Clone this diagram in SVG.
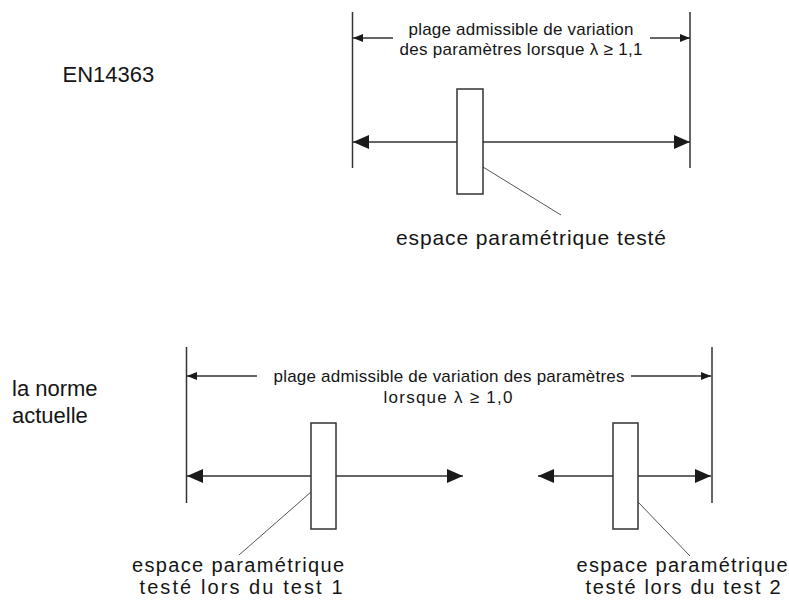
<svg xmlns="http://www.w3.org/2000/svg" width="789" height="603" viewBox="0 0 789 603">
<defs>
<marker id="big" viewBox="0 0 16 14" markerWidth="16" markerHeight="14" refX="16" refY="7" orient="auto-start-reverse" markerUnits="userSpaceOnUse"><path d="M0,0 L16,7 L0,14 Z" fill="#1a1a1a"/></marker>
<marker id="small" viewBox="0 0 10 8" markerWidth="10" markerHeight="8" refX="10" refY="4" orient="auto-start-reverse" markerUnits="userSpaceOnUse"><path d="M0,0 L10,4 L0,8 Z" fill="#1a1a1a"/></marker>
<style>
text{font-family:"Liberation Sans",Arial,sans-serif;fill:#151515}
.t17{font-size:17px}
.t20{font-size:20px}
.t21{font-size:21px}
.t22{font-size:22px}
.ext{stroke:#333;stroke-width:1.5;fill:none}
.dim{stroke:#333;stroke-width:1.3;fill:none}
.axis{stroke:#333;stroke-width:1.5;fill:none}
.lead{stroke:#555;stroke-width:1;fill:none}
.box{fill:#fff;stroke:#333;stroke-width:1.5}
</style>
</defs>
<g id="connectors">
<line class="ext" x1="352.5" y1="12" x2="352.5" y2="168"/>
<line class="ext" x1="690" y1="12" x2="690" y2="168"/>
<line class="dim" x1="353" y1="38" x2="393" y2="38" marker-start="url(#small)"/>
<line class="dim" x1="650" y1="38" x2="690" y2="38" marker-end="url(#small)"/>
<line class="axis" x1="353" y1="142" x2="690" y2="142" marker-start="url(#big)" marker-end="url(#big)"/>
<line class="lead" x1="483" y1="167" x2="561" y2="215"/>
<line class="ext" x1="186.5" y1="347" x2="186.5" y2="503"/>
<line class="ext" x1="712" y1="347" x2="712" y2="503"/>
<line class="dim" x1="187" y1="376" x2="257" y2="376" marker-start="url(#small)"/>
<line class="dim" x1="631" y1="376" x2="711" y2="376" marker-end="url(#small)"/>
<line class="axis" x1="187" y1="476" x2="463" y2="476" marker-start="url(#big)" marker-end="url(#big)"/>
<line class="axis" x1="538" y1="476" x2="711" y2="476" marker-start="url(#big)" marker-end="url(#big)"/>
<line class="lead" x1="311" y1="492" x2="239" y2="555"/>
<line class="lead" x1="638" y1="502" x2="690" y2="556"/>
</g>
<g id="label-en">
<text class="t22" x="62.5" y="81.5">EN14363</text>
</g>
<g id="label-norme">
<text class="t22" x="12" y="396">la norme</text>
<text class="t22" x="12" y="422.5">actuelle</text>
</g>
<g id="range-top">
<text class="t17" x="521" y="35" text-anchor="middle" textLength="225" lengthAdjust="spacing">plage admissible de variation</text>
<text class="t17" x="521" y="55" text-anchor="middle" textLength="243" lengthAdjust="spacing">des paramètres lorsque λ ≥ 1,1</text>
</g>
<g id="box-top">
<rect class="box" x="457" y="89" width="26" height="105"/>
</g>
<g id="label-top">
<text class="t21" x="531" y="245" text-anchor="middle" textLength="270" lengthAdjust="spacing">espace paramétrique testé</text>
</g>
<g id="range-bottom">
<text class="t17" x="449" y="382" text-anchor="middle" textLength="351" lengthAdjust="spacing">plage admissible de variation des paramètres</text>
<text class="t17" x="448" y="403" text-anchor="middle" textLength="129" lengthAdjust="spacing">lorsque λ ≥ 1,0</text>
</g>
<g id="box-test1">
<rect class="box" x="311" y="423" width="25" height="106"/>
</g>
<g id="box-test2">
<rect class="box" x="613" y="423" width="25" height="106"/>
</g>
<g id="label-test1">
<text class="t20" x="238" y="572" text-anchor="middle" textLength="212" lengthAdjust="spacing">espace paramétrique</text>
<text class="t20" x="241" y="594" text-anchor="middle" textLength="203" lengthAdjust="spacing">testé lors du test 1</text>
</g>
<g id="label-test2">
<text class="t20" x="682" y="572" text-anchor="middle" textLength="211" lengthAdjust="spacing">espace paramétrique</text>
<text class="t20" x="683" y="594" text-anchor="middle" textLength="195" lengthAdjust="spacing">testé lors du test 2</text>
</g>
</svg>
